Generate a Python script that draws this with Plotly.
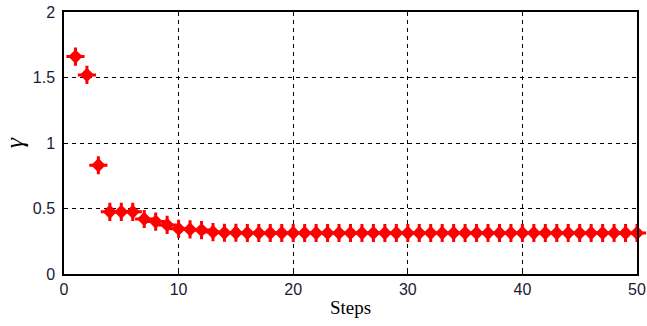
import plotly.graph_objects as go

steps = list(range(1, 51))
gamma = [1.66, 1.52, 0.83, 0.475, 0.475, 0.475, 0.42, 0.40, 0.375, 0.345,
         0.34, 0.335, 0.32, 0.315, 0.315] + [0.313] * 35

fig = go.Figure()
fig.add_trace(go.Scatter(
    x=steps, y=gamma, mode="markers",
    marker=dict(symbol="diamond", size=11, color="red", line=dict(width=0)),
    showlegend=False, cliponaxis=False, hoverinfo="skip"))
fig.add_trace(go.Scatter(
    x=steps, y=gamma, mode="markers",
    marker=dict(symbol="cross-thin", size=13, color="red", line=dict(color="red", width=3)),
    showlegend=False, cliponaxis=False))

axis_common = dict(showline=True, linecolor="black", linewidth=1.5, mirror=True,
                   showgrid=True, gridcolor="black", griddash="4px,4px", gridwidth=1,
                   ticks="inside", ticklen=4, tickcolor="black", zeroline=False,
                   automargin=False,
                   tickfont=dict(family="Liberation Sans, Arial", size=16, color="#1a1a33"))

fig.update_xaxes(range=[0, 50], dtick=10, **axis_common,
                 title=dict(text="Steps", font=dict(family="Liberation Serif, Times New Roman", size=19, color="black"),
                            standoff=4))
fig.update_yaxes(range=[0, 2], dtick=0.5, **axis_common, ticklabelstandoff=4,
                 title=dict(text="<i>γ</i>", font=dict(family="Liberation Serif, Times New Roman", size=26, color="black"),
                            standoff=12))

fig.update_layout(width=647, height=326, plot_bgcolor="white", paper_bgcolor="white",
                  margin=dict(l=64, r=10, t=12, b=52, autoexpand=False))
fig.write_html("out.html", config={"displayModeBar": False},
               post_script="document.body.style.margin='0';document.body.style.overflow='hidden';")
